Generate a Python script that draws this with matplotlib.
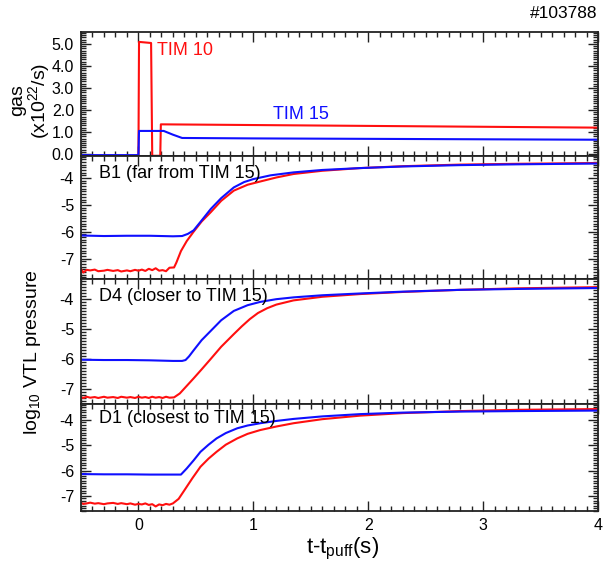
import matplotlib
matplotlib.use("Agg")
import matplotlib.pyplot as plt
from matplotlib.ticker import MultipleLocator, FormatStrFormatter

plt.rcParams['font.family'] = ['Liberation Sans', 'DejaVu Sans']
plt.rcParams['mathtext.fontset'] = 'custom'
plt.rcParams['mathtext.rm'] = 'Liberation Sans'
plt.rcParams['mathtext.it'] = 'Liberation Sans:italic'
plt.rcParams['axes.unicode_minus'] = False

# ---------------- data ----------------
shot_label = "#103788"

# gas puff rates (x1e22/s)
gas_t_tim10 = [-0.5, 0.0, 0.005, 0.11, 0.12, 0.19, 0.195, 4.0]
gas_v_tim10 = [-0.08, -0.08, 5.1, 5.05, -0.08, -0.08, 1.35, 1.2]
gas_t_tim15 = [-0.5, 0.0, 0.005, 0.22, 0.30, 0.38, 1.0, 4.0]
gas_v_tim15 = [-0.05, -0.05, 1.05, 1.05, 0.88, 0.73, 0.71, 0.65]

# common time grid of the noisy pre-rise segment (red traces)
t_pre = [-0.5, -0.48, -0.45, -0.42, -0.38, -0.35, -0.3, -0.27, -0.22, -0.18,
         -0.15, -0.1, -0.07, -0.03, 0.0, 0.03, 0.06, 0.09, 0.12, 0.15,
         0.18, 0.21, 0.24, 0.27]

# B1 (far from TIM 15)
b1_red_pre = [-7.38, -7.52, -7.42, -7.44, -7.41, -7.47, -7.45, -7.42, -7.46, -7.43,
              -7.48, -7.44, -7.47, -7.42, -7.45, -7.41, -7.46, -7.38, -7.43, -7.36,
              -7.45, -7.43, -7.47, -7.34]
b1_red_t = [0.31, 0.33, 0.37, 0.42, 0.48, 0.55, 0.63, 0.72, 0.83, 0.95,
            1.06, 1.2, 1.35, 1.6, 1.93, 2.3, 2.8, 3.3, 4.0]
b1_red_v = [-7.33, -7.15, -6.72, -6.35, -6.0, -5.62, -5.27, -4.85, -4.47, -4.25,
            -4.13, -3.98, -3.85, -3.73, -3.63, -3.56, -3.5, -3.47, -3.44]
b1_blue_t = [-0.5, -0.3, -0.1, 0.1, 0.3, 0.38, 0.43, 0.48, 0.55, 0.63, 0.72,
             0.83, 0.92, 1.0, 1.15, 1.35, 1.6, 1.93, 2.3, 2.8, 3.3, 4.0]
b1_blue_v = [-6.14, -6.16, -6.15, -6.15, -6.17, -6.16, -6.08, -5.95, -5.58, -5.15, -4.75,
             -4.35, -4.15, -4.04, -3.9, -3.79, -3.7, -3.63, -3.57, -3.52, -3.49, -3.46]

# D4 (closer to TIM 15)
d4_red_pre = [-7.27, -7.3, -7.26, -7.29, -7.27, -7.3, -7.26, -7.29, -7.27, -7.3,
              -7.26, -7.29, -7.27, -7.3, -7.26, -7.29, -7.27, -7.3, -7.26, -7.29,
              -7.27, -7.3, -7.26, -7.29]
d4_red_t = [0.31, 0.36, 0.42, 0.48, 0.55, 0.63, 0.72, 0.83, 0.9, 0.97, 1.04,
            1.12, 1.2, 1.35, 1.6, 1.93, 2.3, 2.8, 3.3, 4.0]
d4_red_v = [-7.28, -7.15, -6.9, -6.65, -6.35, -6.0, -5.6, -5.18, -4.92, -4.68, -4.48,
            -4.32, -4.2, -4.06, -3.94, -3.85, -3.78, -3.71, -3.66, -3.62]
d4_blue_t = [-0.5, -0.3, -0.1, 0.1, 0.3, 0.38, 0.41, 0.44, 0.48, 0.55, 0.63, 0.72,
             0.83, 0.95, 1.06, 1.2, 1.35, 1.6, 1.93, 2.3, 2.8, 3.3, 4.0]
d4_blue_v = [-6.03, -6.04, -6.04, -6.05, -6.07, -6.07, -6.04, -5.92, -5.72, -5.38, -5.07, -4.72,
             -4.41, -4.22, -4.11, -4.02, -3.96, -3.89, -3.83, -3.77, -3.71, -3.68, -3.65]

# D1 (closest to TIM 15)
d1_red_pre = [-7.28, -7.32, -7.3, -7.27, -7.31, -7.29, -7.33, -7.3, -7.28, -7.32,
              -7.29, -7.33, -7.3, -7.35, -7.32, -7.34, -7.3, -7.36, -7.33, -7.42,
              -7.34, -7.37, -7.32, -7.35]
d1_red_t = [0.3, 0.35, 0.4, 0.47, 0.54, 0.61, 0.68, 0.76, 0.86, 0.95,
            1.06, 1.2, 1.35, 1.6, 1.93, 2.3, 2.8, 3.3, 4.0]
d1_red_v = [-7.3, -7.12, -6.78, -6.3, -5.85, -5.53, -5.26, -4.98, -4.73, -4.55,
            -4.4, -4.26, -4.13, -3.97, -3.83, -3.73, -3.65, -3.6, -3.57]
d1_blue_t = [-0.5, -0.3, -0.1, 0.1, 0.3, 0.37, 0.42, 0.48, 0.54, 0.61, 0.68, 0.76,
             0.86, 0.95, 1.06, 1.2, 1.35, 1.6, 1.93, 2.3, 2.8, 3.3, 4.0]
d1_blue_v = [-6.14, -6.15, -6.15, -6.16, -6.16, -6.16, -5.92, -5.6, -5.26, -4.98, -4.73, -4.52,
             -4.33, -4.22, -4.13, -4.04, -3.96, -3.86, -3.77, -3.71, -3.67, -3.65, -3.63]

panel_names = ["B1 (far from TIM 15)", "D4 (closer to TIM 15)", "D1 (closest to TIM 15)"]
pressure_ticks = [-4, -5, -6, -7]
gas_ticks = [0, 1, 2, 3, 4, 5]
time_ticks = [0, 1, 2, 3, 4]

# ---------------- figure ----------------
W, H = 613, 565
fig = plt.figure(figsize=(W / 100, H / 100), dpi=100)

LEFT, RIGHT = 81, 598
def add_ax(top_px, bot_px):
    return fig.add_axes([LEFT / W, 1 - bot_px / H, (RIGHT - LEFT) / W, (bot_px - top_px) / H])

ax_gas = add_ax(32, 156)
ax_b1 = add_ax(156, 279)
ax_d4 = add_ax(279, 404)
ax_d1 = add_ax(404, 511)

RED = '#ff0f0f'
BLUE = '#0f0fff'
LW = 1.5
axcol = '#222222'

def style(ax, ylim, yticks, fmt, xlabels):
    ax.set_xlim(-0.5, 4.0)
    ax.set_ylim(*ylim)
    ax.set_xticks(time_ticks)
    ax.xaxis.set_minor_locator(MultipleLocator(0.1))
    ax.set_yticks(yticks)
    ax.yaxis.set_minor_locator(MultipleLocator(0.1))
    ax.yaxis.set_major_formatter(FormatStrFormatter(fmt))
    ax.tick_params(which='both', direction='in', top=True, right=True, colors=axcol,
                   labelcolor='black', width=1.0, labelsize=11.5, pad=5)
    ax.tick_params(which='major', length=7)
    ax.tick_params(which='minor', length=3.5)
    if not xlabels:
        ax.tick_params(labelbottom=False)
    for s in ax.spines.values():
        s.set_color(axcol)
        s.set_linewidth(1.3)

# gas panel
ax_gas.plot(gas_t_tim10, gas_v_tim10, color=RED, lw=LW)
ax_gas.plot(gas_t_tim15, gas_v_tim15, color=BLUE, lw=LW)
style(ax_gas, (-0.09, 5.55), gas_ticks, '%.1f', False)
ax_gas.text(0.165, 4.73, "TIM 10", color=RED, fontsize=13, va='center', ha='left')
ax_gas.text(1.17, 1.78, "TIM 15", color=BLUE, fontsize=13, va='center', ha='left')

# pressure panels
panels = [
    (ax_b1, b1_red_pre, b1_red_t, b1_red_v, b1_blue_t, b1_blue_v, (-7.76, -3.18)),
    (ax_d4, d4_red_pre, d4_red_t, d4_red_v, d4_blue_t, d4_blue_v, (-7.5, -3.35)),
    (ax_d1, d1_red_pre, d1_red_t, d1_red_v, d1_blue_t, d1_blue_v, (-7.6, -3.37)),
]
for i, (ax, rpre, rt, rv, bt, bv, yl) in enumerate(panels):
    ax.plot(t_pre + rt, rpre + rv, color=RED, lw=LW)
    ax.plot(bt, bv, color=BLUE, lw=LW)
    style(ax, yl, pressure_ticks, '%d', i == 2)
    ax.text(0.035, 0.86, panel_names[i], transform=ax.transAxes, fontsize=13,
            va='center', ha='left')

# labels
fig.text(18 / W, 1 - 100 / H, "gas", rotation=90, fontsize=14, ha='center', va='center')
fig.text(39 / W, 1 - 101 / H, r"(x10$^{22}$/s)", rotation=90, fontsize=14, ha='center', va='center')
fig.text(33 / W, 1 - 352 / H, r"log$_{10}$ VTL pressure", rotation=90, fontsize=14,
         ha='center', va='center')
fig.text(343 / W, 1 - 549 / H, r"t-t$_{\mathrm{puff}}$(s)", fontsize=16, ha='center', va='center')
fig.text(597 / W, 1 - 13 / H, shot_label, fontsize=12.5, ha='right', va='center')

fig.savefig("out.png", dpi=100)
